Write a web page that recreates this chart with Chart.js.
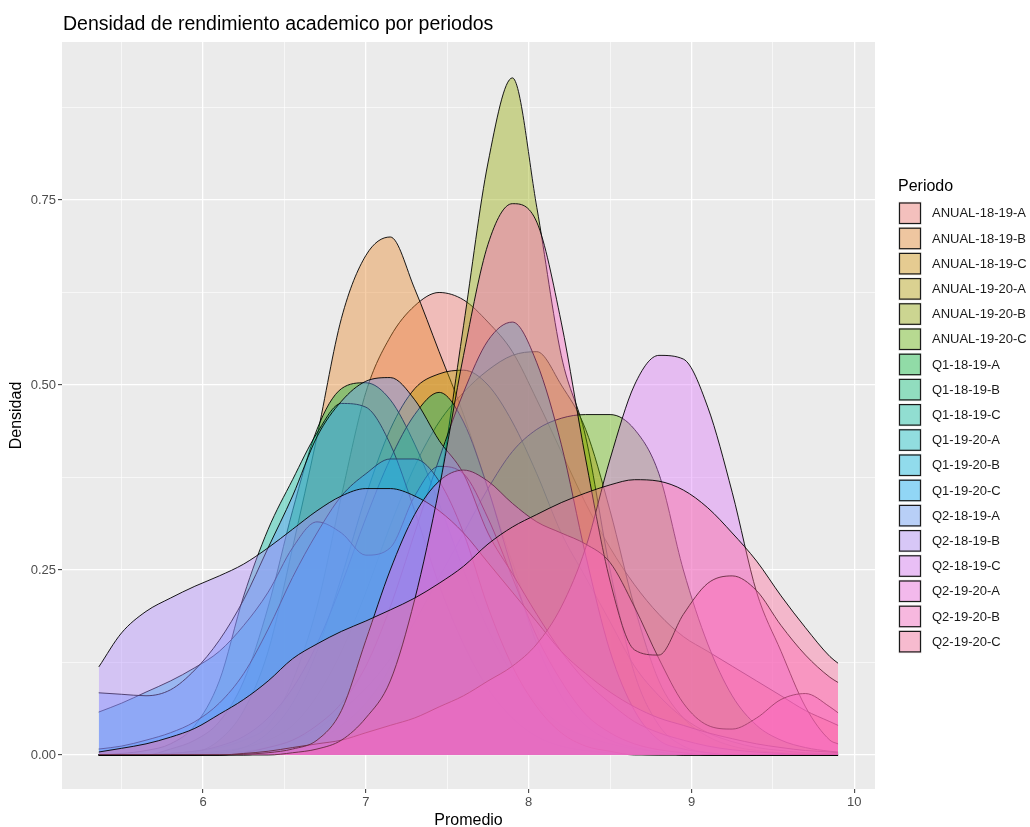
<!DOCTYPE html>
<html>
<head>
<meta charset="utf-8">
<script src="https://cdn.jsdelivr.net/npm/chart.js@4.4.1/dist/chart.umd.min.js"></script>
<style>
html,body{margin:0;padding:0;background:#ffffff;}
canvas{display:block;}
</style>
</head>
<body>
<canvas id="c" width="1030" height="827"></canvas>
<script>
// ---- Data ----
const promedio = [5.36,5.5,5.65,5.8,5.95,6.1,6.25,6.4,6.55,6.7,6.85,7.0,7.15,7.3,7.45,7.6,7.75,7.9,8.05,8.2,8.35,8.5,8.65,8.8,8.95,9.1,9.25,9.4,9.55,9.7,9.85,9.9];

const periodos = ["ANUAL-18-19-A","ANUAL-18-19-B","ANUAL-18-19-C","ANUAL-19-20-A","ANUAL-19-20-B","ANUAL-19-20-C","Q1-18-19-A","Q1-18-19-B","Q1-18-19-C","Q1-19-20-A","Q1-19-20-B","Q1-19-20-C","Q2-18-19-A","Q2-18-19-B","Q2-18-19-C","Q2-19-20-A","Q2-19-20-B","Q2-19-20-C"];

const anual_18_19_A = [0,0,0,0.002,0.005,0.01,0.02,0.04,0.1,0.2,0.35,0.49,0.565,0.607,0.625,0.615,0.585,0.545,0.48,0.41,0.34,0.28,0.23,0.19,0.16,0.14,0.12,0.1,0.08,0.06,0.045,0.04];
const anual_18_19_B = [0,0,0,0,0.003,0.02,0.06,0.14,0.28,0.43,0.59,0.675,0.70,0.63,0.545,0.46,0.36,0.26,0.17,0.1,0.055,0.03,0.015,0.008,0.004,0,0,0,0,0,0,0];
const anual_18_19_C = [0,0,0,0,0.002,0.005,0.01,0.02,0.04,0.08,0.14,0.22,0.31,0.39,0.45,0.49,0.52,0.54,0.545,0.5,0.44,0.33,0.2,0.1,0.05,0.025,0.012,0.006,0.003,0.002,0.001,0.001];
const anual_19_20_A = [0,0,0,0,0,0.003,0.01,0.03,0.07,0.14,0.24,0.35,0.44,0.495,0.515,0.52,0.5,0.45,0.38,0.3,0.24,0.18,0.12,0.08,0.05,0.03,0.018,0.01,0.006,0.003,0.002,0.002];
const anual_19_20_B = [0,0,0,0,0,0,0,0.003,0.008,0.02,0.04,0.07,0.12,0.21,0.36,0.58,0.80,0.915,0.74,0.54,0.43,0.25,0.11,0.04,0.012,0.003,0,0,0,0,0,0];
const anual_19_20_C = [0,0,0,0,0,0.002,0.005,0.01,0.02,0.035,0.06,0.09,0.13,0.18,0.24,0.3,0.36,0.41,0.44,0.455,0.46,0.46,0.44,0.38,0.25,0.15,0.08,0.04,0.02,0.01,0.005,0.004];
const q1_18_19_A = [0,0,0,0.008,0.02,0.045,0.1,0.2,0.33,0.44,0.495,0.503,0.48,0.42,0.34,0.25,0.17,0.11,0.07,0.04,0.025,0.015,0.008,0.004,0,0,0,0,0,0,0,0];
const q1_18_19_B = [0,0,0,0.002,0.005,0.012,0.025,0.05,0.09,0.15,0.23,0.32,0.4,0.46,0.49,0.45,0.36,0.25,0.15,0.08,0.04,0.02,0.01,0.004,0,0,0,0,0,0,0,0];
const q1_18_19_C = [0,0.002,0.006,0.015,0.04,0.1,0.215,0.305,0.372,0.435,0.475,0.47,0.42,0.33,0.23,0.15,0.09,0.05,0.025,0.012,0.006,0.003,0.001,0,0,0,0,0,0,0,0,0];
const q1_19_20_A = [0,0,0,0,0,0,0.003,0.01,0.02,0.04,0.07,0.12,0.2,0.3,0.4,0.49,0.56,0.585,0.53,0.42,0.27,0.14,0.06,0.02,0.008,0.003,0,0,0,0,0,0];
const q1_19_20_B = [0.058,0.07,0.085,0.1,0.118,0.14,0.175,0.22,0.28,0.315,0.3,0.27,0.28,0.35,0.39,0.38,0.32,0.24,0.16,0.1,0.055,0.03,0.015,0.007,0.003,0,0,0,0,0,0,0];
const q1_19_20_C = [0.008,0.012,0.02,0.03,0.045,0.07,0.11,0.17,0.24,0.3,0.35,0.38,0.4,0.4,0.37,0.3,0.2,0.12,0.065,0.03,0.012,0.005,0,0,0,0,0,0,0,0,0,0];
const q2_18_19_A = [0.084,0.082,0.08,0.088,0.115,0.155,0.21,0.28,0.35,0.43,0.478,0.505,0.51,0.48,0.425,0.38,0.3,0.245,0.19,0.14,0.1,0.07,0.045,0.03,0.02,0.012,0.007,0.004,0.002,0,0,0];
const q2_18_19_B = [0.119,0.165,0.194,0.212,0.228,0.242,0.258,0.28,0.305,0.33,0.35,0.36,0.36,0.35,0.33,0.3,0.26,0.22,0.18,0.14,0.11,0.085,0.065,0.05,0.04,0.03,0.022,0.015,0.01,0.006,0.004,0.003];
const q2_18_19_C = [0,0,0,0,0,0,0.002,0.005,0.01,0.015,0.02,0.03,0.04,0.05,0.065,0.08,0.1,0.12,0.15,0.2,0.28,0.4,0.5,0.54,0.535,0.47,0.355,0.22,0.14,0.065,0.02,0.015];
const q2_19_20_A = [0,0,0,0,0,0,0.001,0.003,0.008,0.02,0.06,0.155,0.25,0.325,0.37,0.385,0.37,0.34,0.315,0.3,0.285,0.26,0.2,0.13,0.07,0.04,0.035,0.05,0.075,0.083,0.065,0.057];
const q2_19_20_B = [0,0,0,0,0,0,0,0,0.003,0.008,0.02,0.05,0.1,0.21,0.36,0.54,0.69,0.745,0.72,0.585,0.40,0.235,0.142,0.135,0.19,0.232,0.242,0.222,0.175,0.135,0.105,0.098];
const q2_19_20_C = [0.004,0.009,0.015,0.024,0.036,0.055,0.075,0.1,0.13,0.15,0.167,0.181,0.196,0.212,0.232,0.255,0.285,0.308,0.325,0.341,0.354,0.365,0.372,0.37,0.358,0.334,0.3,0.262,0.215,0.172,0.133,0.124];

const densidades = [anual_18_19_A,anual_18_19_B,anual_18_19_C,anual_19_20_A,anual_19_20_B,anual_19_20_C,
  q1_18_19_A,q1_18_19_B,q1_18_19_C,q1_19_20_A,q1_19_20_B,q1_19_20_C,
  q2_18_19_A,q2_18_19_B,q2_18_19_C,q2_19_20_A,q2_19_20_B,q2_19_20_C];

const xTicks = [5.5,6,6.5,7,7.5,8,8.5,9,9.5,10];
const yTicks = [0,0.125,0.25,0.375,0.5,0.625,0.75,0.875];

// ---- ggplot-like hue palette (HCL, c=100, l=65) ----
function hcl2rgb(h, c, l) {
  const hr = h * Math.PI / 180;
  const U = c * Math.cos(hr), V = c * Math.sin(hr);
  const Xn = 95.047, Yn = 100, Zn = 108.883;
  const den = Xn + 15 * Yn + 3 * Zn;
  const un = 4 * Xn / den, vn = 9 * Yn / den;
  const Y = Yn * Math.pow((l + 16) / 116, 3);
  const up = U / (13 * l) + un, vp = V / (13 * l) + vn;
  const X = Y * 9 * up / (4 * vp);
  const Z = Y * (12 - 3 * up - 20 * vp) / (4 * vp);
  const x = X / 100, y = Y / 100, z = Z / 100;
  let r = 3.240479 * x - 1.537150 * y - 0.498535 * z;
  let g = -0.969256 * x + 1.875992 * y + 0.041556 * z;
  let b = 0.055648 * x - 0.204043 * y + 1.057311 * z;
  const gam = v => { v = v <= 0.0031308 ? 12.92 * v : 1.055 * Math.pow(v, 1 / 2.4) - 0.055; return Math.round(255 * Math.min(1, Math.max(0, v))); };
  return [gam(r), gam(g), gam(b)];
}
const n = periodos.length;
const colores = periodos.map((_, i) => hcl2rgb(15 + 360 * i / n, 100, 65));
const ALPHA = 0.4;
const rgba = (c, a) => `rgba(${c[0]},${c[1]},${c[2]},${a})`;

const datasets = densidades.map((vals, i) => ({
  label: periodos[i],
  data: promedio.map((x, k) => ({ x: x, y: vals[k] })),
  backgroundColor: rgba(colores[i], ALPHA),
  borderColor: '#000000',
  borderWidth: 0.9,
  fill: 'origin',
  pointRadius: 0,
  pointHoverRadius: 0,
  tension: 0.4,
  cubicInterpolationMode: 'monotone',
  order: n - 1 - i
}));

const FONT = '"Liberation Sans", Arial, Helvetica, sans-serif';

const panelPlugin = {
  id: 'panel',
  beforeDraw(chart) {
    const { ctx, chartArea: a } = chart;
    ctx.save();
    ctx.fillStyle = '#EBEBEB';
    ctx.fillRect(a.left, a.top, a.right - a.left, a.bottom - a.top);
    ctx.restore();
  }
};

const textPlugin = {
  id: 'texts',
  afterDraw(chart) {
    const { ctx, chartArea: a } = chart;
    ctx.save();
    // title
    ctx.fillStyle = '#000000';
    ctx.font = '19.5px ' + FONT;
    ctx.textAlign = 'left';
    ctx.textBaseline = 'middle';
    ctx.fillText('Densidad de rendimiento academico por periodos', 63, 25);
    // axis titles
    ctx.font = '16px ' + FONT;
    ctx.textAlign = 'center';
    ctx.fillText('Promedio', (a.left + a.right) / 2, 821);
    ctx.save();
    ctx.translate(17, (a.top + a.bottom) / 2);
    ctx.rotate(-Math.PI / 2);
    ctx.fillText('Densidad', 0, 0);
    ctx.restore();
    // legend
    ctx.textAlign = 'left';
    ctx.font = '16px ' + FONT;
    ctx.fillText('Periodo', 898, 187);
    ctx.font = '13px ' + FONT;
    const kx = 898, ky = 201.5, kw = 24, kh = 23.5, step = 25.2;
    for (let i = 0; i < n; i++) {
      const y = ky + i * step;
      ctx.fillStyle = '#F2F2F2';
      ctx.fillRect(kx, y, kw, kh);
      ctx.fillStyle = rgba(colores[i], ALPHA);
      ctx.fillRect(kx + 1, y + 1, kw - 2, kh - 2);
      ctx.strokeStyle = '#1a1a1a';
      ctx.lineWidth = 1.2;
      ctx.strokeRect(kx + 1.5, y + 1.5, kw - 3, kh - 3);
      ctx.fillStyle = '#1a1a1a';
      ctx.fillText(periodos[i], 932, y + kh / 2 + 0.5);
    }
    ctx.restore();
  }
};

const isMajorX = v => Math.abs(v - Math.round(v)) < 1e-9;
const isMajorY = v => Math.abs(v * 4 - Math.round(v * 4)) < 1e-9;

new Chart(document.getElementById('c'), {
  type: 'line',
  data: { datasets: datasets },
  plugins: [panelPlugin, textPlugin],
  options: {
    responsive: false,
    animation: false,
    devicePixelRatio: 1,
    events: [],
    layout: { padding: { left: 0, right: 155, top: 42, bottom: 0 } },
    plugins: { legend: { display: false }, title: { display: false }, tooltip: { enabled: false } },
    scales: {
      x: {
        type: 'linear',
        min: 5.134, max: 10.127,
        afterBuildTicks: s => { s.ticks = xTicks.map(v => ({ value: v })); },
        afterFit: s => { s.height = 38; },
        border: { display: false },
        grid: {
          color: '#FFFFFF',
          lineWidth: c => isMajorX(c.tick.value) ? 1.3 : 0.6,
          drawTicks: true,
          tickLength: 4,
          tickColor: c => isMajorX(c.tick.value) ? '#333333' : 'rgba(0,0,0,0)',
          tickWidth: 1
        },
        ticks: {
          autoSkip: false,
          maxRotation: 0,
          padding: 2,
          color: '#4D4D4D',
          font: { family: FONT, size: 13 },
          callback: v => isMajorX(v) ? String(Math.round(v)) : ''
        }
      },
      y: {
        type: 'linear',
        min: -0.046, max: 0.9635,
        afterBuildTicks: s => { s.ticks = yTicks.map(v => ({ value: v })); },
        afterFit: s => { s.width = 62; },
        border: { display: false },
        grid: {
          color: '#FFFFFF',
          lineWidth: c => isMajorY(c.tick.value) ? 1.3 : 0.6,
          drawTicks: true,
          tickLength: 4,
          tickColor: c => isMajorY(c.tick.value) ? '#333333' : 'rgba(0,0,0,0)',
          tickWidth: 1
        },
        ticks: {
          autoSkip: false,
          padding: 2,
          color: '#4D4D4D',
          font: { family: FONT, size: 13 },
          callback: v => isMajorY(v) ? v.toFixed(2) : ''
        }
      }
    }
  }
});
</script>
</body>
</html>
